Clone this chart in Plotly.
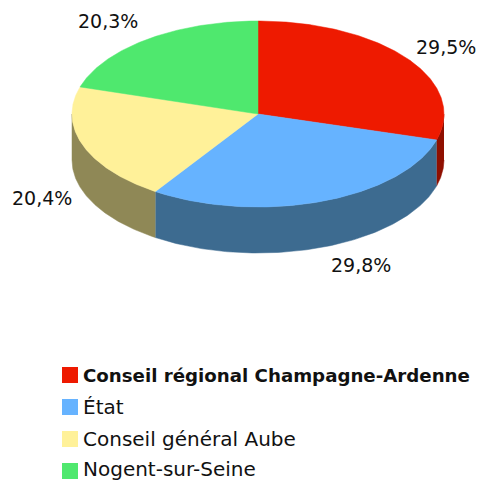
import numpy as np
import plotly.graph_objects as go

categories = ["Conseil régional Champagne-Ardenne", "État", "Conseil général Aube", "Nogent-sur-Seine"]
values = [29.5, 29.8, 20.4, 20.3]
value_labels = ["29,5%", "29,8%", "20,4%", "20,3%"]
top_colors = ["#EE1A00", "#66B3FF", "#FFF199", "#4FE86E"]
side_colors = ["#8F0F00", "#3D6B90", "#8F8856", "#2F8B42"]

CX, CY, RX, RY, DEPTH = 258, 114, 186, 93, 46
FONT = "DejaVu Sans"


def ell(deg):
    a = np.radians(deg)
    return CX + RX * np.sin(a), CY + RY * np.cos(a) * -1


fig = go.Figure()
edges = np.concatenate([[0], np.cumsum(values)]) * 3.6

# side walls: only the front half of the rim (90 to 270 degrees clockwise from top)
for i, (s, e) in enumerate(zip(edges[:-1], edges[1:])):
    lo, hi = max(s, 90), min(e, 270)
    if lo >= hi:
        continue
    t = np.linspace(lo, hi, 120)
    x, y = ell(t)
    fig.add_trace(go.Scatter(
        x=np.concatenate([x, x[::-1]]),
        y=np.concatenate([y, y[::-1] + DEPTH]),
        mode="lines", fill="toself", fillcolor=side_colors[i],
        line=dict(color=side_colors[i], width=0.5),
        hoverinfo="skip", showlegend=False))

# top face
for i, (s, e) in enumerate(zip(edges[:-1], edges[1:])):
    t = np.linspace(s, e, 160)
    x, y = ell(t)
    fig.add_trace(go.Scatter(
        x=np.concatenate([[CX], x, [CX]]),
        y=np.concatenate([[CY], y, [CY]]),
        mode="lines", fill="toself", fillcolor=top_colors[i],
        line=dict(color=top_colors[i], width=0.5),
        name=categories[i], text=value_labels[i], hoverinfo="name+text",
        showlegend=False))

label_pos = [(446, 47), (361, 265), (42, 198), (108, 21)]
annotations = [
    dict(x=p[0], y=p[1], text=t, showarrow=False, xanchor="center", yanchor="middle",
         font=dict(family=FONT, size=19, color="#111111"))
    for p, t in zip(label_pos, value_labels)
]

swatch_y = [375, 407, 439, 471]
text_y = [375, 407, 439, 469]
legend_size = [18.2, 20, 20, 20]
shapes = []
for i, name in enumerate(categories):
    yy = swatch_y[i]
    shapes.append(dict(type="rect", x0=62, x1=78, y0=yy - 8, y1=yy + 8,
                       fillcolor=top_colors[i], line=dict(width=0)))
    annotations.append(dict(
        x=81, y=text_y[i], text=f"<b>{name}</b>" if i == 0 else name, showarrow=False,
        xanchor="left", yanchor="middle",
        font=dict(family=FONT, size=legend_size[i], color="#111111")))

fig.update_layout(
    width=480, height=481, margin=dict(l=0, r=0, t=0, b=0),
    paper_bgcolor="white", plot_bgcolor="white", showlegend=False,
    xaxis=dict(range=[0, 480], visible=False, fixedrange=True),
    yaxis=dict(range=[481, 0], visible=False, fixedrange=True),
    annotations=annotations, shapes=shapes,
)
fig.write_html("out.html", config={"displayModeBar": False},
               post_script="document.body.style.margin='0';document.body.style.overflow='hidden';")
